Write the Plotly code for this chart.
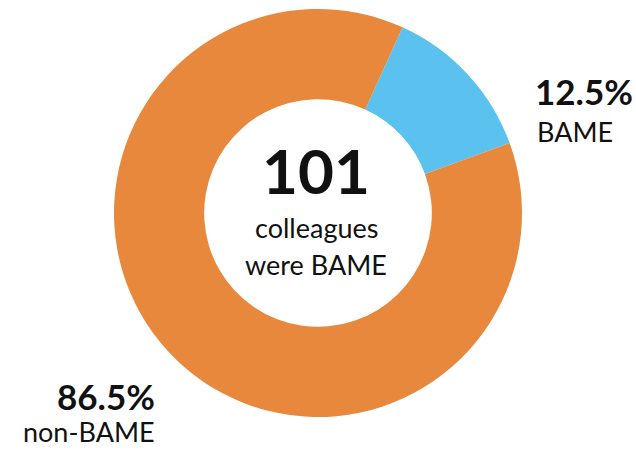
import plotly.graph_objects as go

# Data
categories = ["BAME", "non-BAME"]
percentages = [12.5, 86.5]
colors = ["#5BC2F0", "#E8883D"]
centre_count = 101
centre_caption = ["colleagues", "were BAME"]

W, H = 636, 450
FONT = "Lato"

fig = go.Figure()
fig.add_trace(go.Pie(
    labels=categories,
    values=percentages,
    marker=dict(colors=colors, line=dict(width=0)),
    hole=0.558,
    sort=False,
    direction="clockwise",
    rotation=24.5,
    textinfo="none",
    hoverinfo="label+value",
    showlegend=False,
    domain=dict(x=[0, 1], y=[33 / H, 441 / H]),
))


def py(pix):
    return 1 - pix / H


def px(pix):
    return pix / W


ann = []
# centre text
ann.append(dict(text=f"<b>{centre_count}</b>", x=px(316), y=py(170), xanchor="center",
                yanchor="middle", font=dict(size=62, color="#111111", family=FONT)))
ann.append(dict(text=centre_caption[0], x=px(316), y=py(227), xanchor="center",
                yanchor="middle", font=dict(size=27, color="#111111", family=FONT)))
ann.append(dict(text=centre_caption[1], x=px(316), y=py(264), xanchor="center",
                yanchor="middle", font=dict(size=27, color="#111111", family=FONT)))
# BAME label (right)
ann.append(dict(text=f"<b>{percentages[0]}%</b>", x=px(534), y=py(91), xanchor="left",
                yanchor="middle", font=dict(size=35, color="#111111", family=FONT)))
ann.append(dict(text=categories[0], x=px(536), y=py(131), xanchor="left",
                yanchor="middle", font=dict(size=27, color="#111111", family=FONT)))
# non-BAME label (left)
ann.append(dict(text=f"<b>{percentages[1]}%</b>", x=px(156), y=py(396), xanchor="right",
                yanchor="middle", font=dict(size=35, color="#111111", family=FONT)))
ann.append(dict(text=categories[1], x=px(156), y=py(431), xanchor="right",
                yanchor="middle", font=dict(size=27, color="#111111", family=FONT)))

for a in ann:
    a.update(xref="paper", yref="paper", showarrow=False, borderpad=0)

fig.update_layout(
    width=W, height=H,
    margin=dict(l=0, r=0, t=0, b=0),
    paper_bgcolor="white",
    plot_bgcolor="white",
    annotations=ann,
)

fig.write_html("out.html")
